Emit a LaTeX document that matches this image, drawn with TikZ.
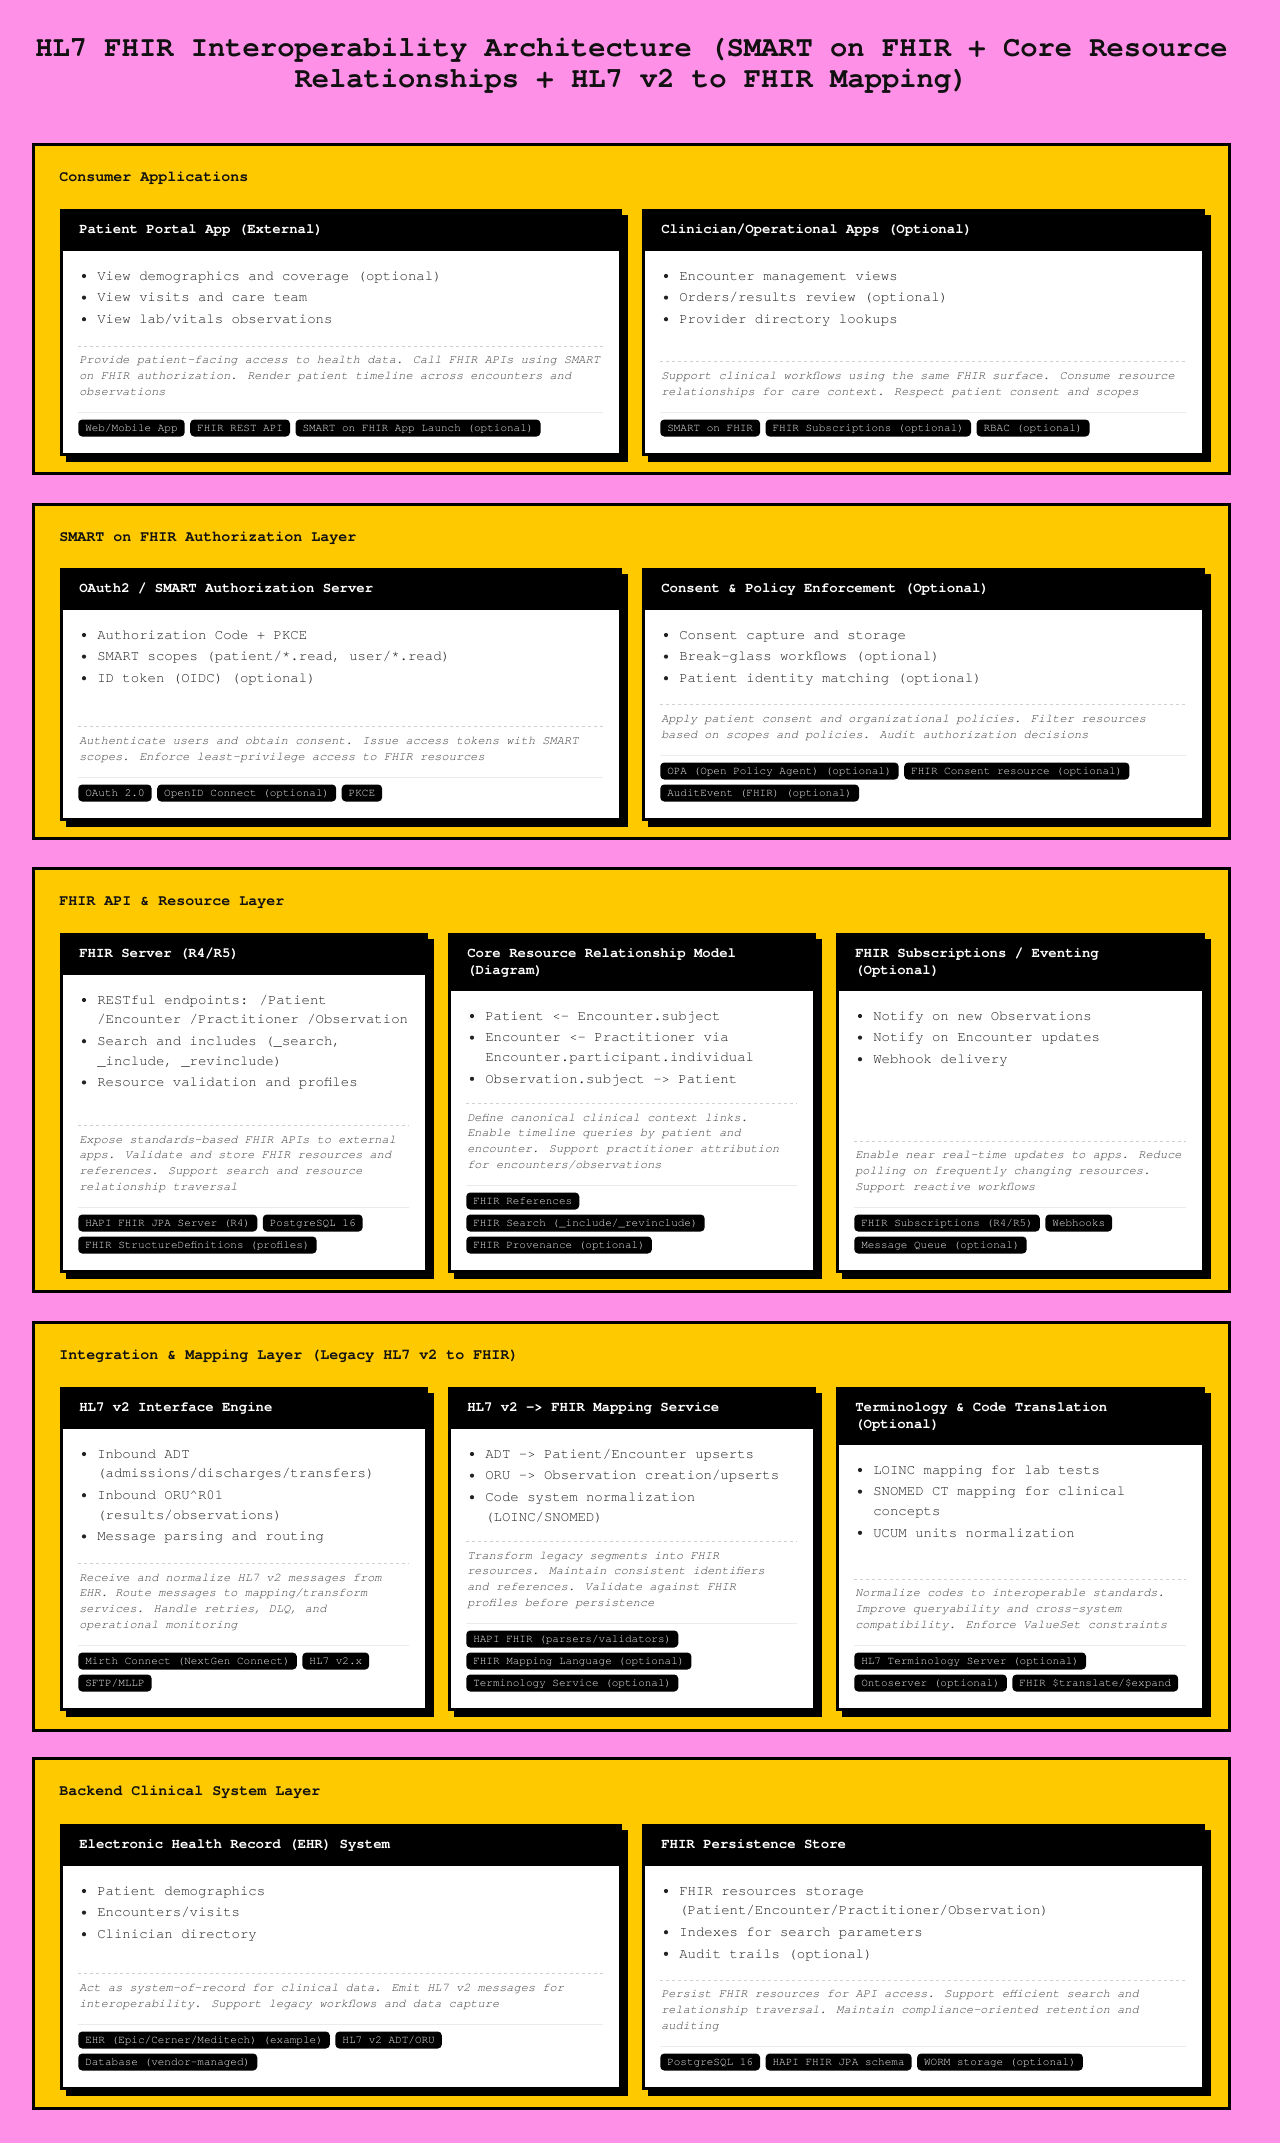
\documentclass[tikz,border=0pt]{standalone}
\usepackage{fontspec}
\setmainfont{TeX Gyre Cursor}
\usetikzlibrary{calc}
\definecolor{pinkbg}{HTML}{FF90E8}
\definecolor{yel}{HTML}{FFC900}
\definecolor{bultc}{HTML}{222222}
\definecolor{descc}{HTML}{444444}
\definecolor{tagtc}{HTML}{E8E8E8}
\definecolor{dashc}{HTML}{D0D0D0}
\definecolor{sepc}{HTML}{EBEBEB}
\definecolor{inkc}{HTML}{111111}
\newcounter{txn}
\tikzset{
 hdrtxt/.style={anchor=base west, inner sep=0pt, font=\bfseries\fontsize{10.5pt}{12pt}\selectfont, text=white},
 bultxt/.style={anchor=base west, inner sep=0pt, font=\fontsize{10.5pt}{12pt}\selectfont, text=bultc},
 desctxt/.style={anchor=base west, inner sep=0pt, font=\itshape\fontsize{9pt}{11pt}\selectfont, text=descc},
 tagbox/.style={anchor=west, fill=black, rounded corners=3pt, text=tagtc, font=\fontsize{8.25pt}{9pt}\selectfont, inner xsep=5.25pt, inner ysep=0pt, minimum height=12.75pt, text height=6.3pt, text depth=1.6pt},
 layerlbl/.style={anchor=base west, inner sep=0pt, font=\bfseries\fontsize{11.25pt}{13pt}\selectfont, text=inkc},
 titletxt/.style={anchor=base, inner sep=0pt, font=\bfseries\fontsize{21.6pt}{24pt}\selectfont, text=inkc},
 dashsep/.style={draw=dashc, line width=0.75pt, dash pattern=on 2.25pt off 2.25pt},
 solidsep/.style={draw=sepc, line width=0.75pt},
}
\newcommand\layerbox[4]{%
 \fill[yel] (32,#2) rectangle (1231,#3);
 \draw[black, line width=2.25pt] (33.5,#2+1.5) rectangle (1229.5,#3-1.5);
 \node[layerlbl] (#1) at (59,#2+34+4.5) {#4};}
\newcommand\cardbox[8]{%
 \def\cx{#2}\def\cy{#3}\def\cr{#4}\def\cb{#5}\def\nr{#7}\def\nd{#8}%
 \fill[black] (#2+6,#3+6) rectangle (#4+6,#5+6);
 \fill[black] (#2,#3) rectangle (#4,#5);
 \fill[white] (#2+3,#3+#6) rectangle (#4-3,#5-3);
 \draw[dashsep] (#2+18,{#5-64.5-22*(#7-1)-15.6*(#8-1)-14}) -- (#4-19,{#5-64.5-22*(#7-1)-15.6*(#8-1)-14});
 \draw[solidsep] (#2+18,{#5-44-22*(#7-1)}) -- (#4-19,{#5-44-22*(#7-1)});
 \coordinate (#1) at (#2,#3);}
\newcommand\hd[2]{\stepcounter{txn}\node[hdrtxt] (h\arabic{txn}) at (\cx+19,\cy+#1+4.2) {#2};}
\newcommand\bu[2]{\stepcounter{txn}\fill[bultc] (\cx+24,\cy+#1) circle[radius=2.1];
 \node[bultxt] (b\arabic{txn}) at (\cx+37,\cy+#1+4.2) {#2};}
\newcommand\bw[2]{\stepcounter{txn}\node[bultxt] (w\arabic{txn}) at (\cx+37,\cy+#1+4.2) {#2};}
\newcommand\ds[2]{\stepcounter{txn}\node[desctxt] (d\arabic{txn}) at (\cx+19,{\cb-64.5-22*(\nr-1)-15.6*(\nd-#1)+3.6}) {#2};}
\newcommand\tgf[3]{\node[tagbox] (#1) at (\cx+18,{\cb-28-22*(\nr-#2)}) {#3};}
\newcommand\tgn[3]{\node[tagbox] (#1) at ($(#2.east)+(5,0)$) {#3};}
\begin{document}
\begin{tikzpicture}[x=0.75pt,y=-0.75pt]
\fill[pinkbg] (0,0) rectangle (1280,2143);
\useasboundingbox (0,0) rectangle (1280,2143);
\node[titletxt] (title1) at (631.5,56.6) {HL7 FHIR Interoperability Architecture (SMART on FHIR + Core Resource};
\node[titletxt] (title2) at (631.5,87.6) {Relationships + HL7 v2 to FHIR Mapping)};

% ---------- Layer 1
\layerbox{L1}{143}{475}{Consumer Applications}
\cardbox{c11}{60}{209}{622}{456}{42}{1}{3}
\hd{20.5}{Patient Portal App (External)}
\bu{67}{View demographics and coverage (optional)}
\bu{88.6}{View visits and care team}
\bu{110.2}{View lab/vitals observations}
\ds{1}{Provide patient-facing access to health data. Call FHIR APIs using SMART}
\ds{2}{on FHIR authorization. Render patient timeline across encounters and}
\ds{3}{observations}
\tgf{t11a}{1}{Web/Mobile App}
\tgn{t11b}{t11a}{FHIR REST API}
\tgn{t11c}{t11b}{SMART on FHIR App Launch (optional)}

\cardbox{c12}{642}{209}{1205}{456}{42}{1}{2}
\hd{20.5}{Clinician/Operational Apps (Optional)}
\bu{67}{Encounter management views}
\bu{88.6}{Orders/results review (optional)}
\bu{110.2}{Provider directory lookups}
\ds{1}{Support clinical workflows using the same FHIR surface. Consume resource}
\ds{2}{relationships for care context. Respect patient consent and scopes}
\tgf{t12a}{1}{SMART on FHIR}
\tgn{t12b}{t12a}{FHIR Subscriptions (optional)}
\tgn{t12c}{t12b}{RBAC (optional)}

% ---------- Layer 2
\layerbox{L2}{503}{840}{SMART on FHIR Authorization Layer}
\cardbox{c21}{60}{568}{622}{821}{42}{1}{2}
\hd{20.5}{OAuth2 / SMART Authorization Server}
\bu{67}{Authorization Code + PKCE}
\bu{88.6}{SMART scopes (patient/*.read, user/*.read)}
\bu{110.2}{ID token (OIDC) (optional)}
\ds{1}{Authenticate users and obtain consent. Issue access tokens with SMART}
\ds{2}{scopes. Enforce least-privilege access to FHIR resources}
\tgf{t21a}{1}{OAuth 2.0}
\tgn{t21b}{t21a}{OpenID Connect (optional)}
\tgn{t21c}{t21b}{PKCE}

\cardbox{c22}{642}{568}{1205}{821}{42}{2}{2}
\hd{20.5}{Consent \& Policy Enforcement (Optional)}
\bu{67}{Consent capture and storage}
\bu{88.6}{Break-glass workflows (optional)}
\bu{110.2}{Patient identity matching (optional)}
\ds{1}{Apply patient consent and organizational policies. Filter resources}
\ds{2}{based on scopes and policies. Audit authorization decisions}
\tgf{t22a}{1}{OPA (Open Policy Agent) (optional)}
\tgn{t22b}{t22a}{FHIR Consent resource (optional)}
\tgf{t22c}{2}{AuditEvent (FHIR) (optional)}

% ---------- Layer 3
\layerbox{L3}{867}{1293}{FHIR API \& Resource Layer}
\cardbox{c31}{60}{933}{428}{1273}{42}{2}{4}
\hd{20.5}{FHIR Server (R4/R5)}
\bu{67}{RESTful endpoints: /Patient}
\bw{86.6}{/Encounter /Practitioner /Observation}
\bu{108.2}{Search and includes (\_search,}
\bw{127.8}{\_include, \_revinclude)}
\bu{149.4}{Resource validation and profiles}
\ds{1}{Expose standards-based FHIR APIs to external}
\ds{2}{apps. Validate and store FHIR resources and}
\ds{3}{references. Support search and resource}
\ds{4}{relationship traversal}
\tgf{t31a}{1}{HAPI FHIR JPA Server (R4)}
\tgn{t31b}{t31a}{PostgreSQL 16}
\tgf{t31c}{2}{FHIR StructureDefinitions (profiles)}

\cardbox{c32}{448}{933}{816}{1273}{58}{3}{4}
\hd{20.5}{Core Resource Relationship Model}
\hd{37.3}{(Diagram)}
\bu{83}{Patient <- Encounter.subject}
\bu{104.6}{Encounter <- Practitioner via}
\bw{124.2}{Encounter.participant.individual}
\bu{145.8}{Observation.subject -> Patient}
\ds{1}{Define canonical clinical context links.}
\ds{2}{Enable timeline queries by patient and}
\ds{3}{encounter. Support practitioner attribution}
\ds{4}{for encounters/observations}
\tgf{t32a}{1}{FHIR References}
\tgf{t32b}{2}{FHIR Search (\_include/\_revinclude)}
\tgf{t32c}{3}{FHIR Provenance (optional)}

\cardbox{c33}{836}{933}{1205}{1273}{58}{2}{3}
\hd{20.5}{FHIR Subscriptions / Eventing}
\hd{37.3}{(Optional)}
\bu{83}{Notify on new Observations}
\bu{104.6}{Notify on Encounter updates}
\bu{126.2}{Webhook delivery}
\ds{1}{Enable near real-time updates to apps. Reduce}
\ds{2}{polling on frequently changing resources.}
\ds{3}{Support reactive workflows}
\tgf{t33a}{1}{FHIR Subscriptions (R4/R5)}
\tgn{t33b}{t33a}{Webhooks}
\tgf{t33c}{2}{Message Queue (optional)}

% ---------- Layer 4
\layerbox{L4}{1321}{1732}{Integration \& Mapping Layer (Legacy HL7 v2 to FHIR)}
\cardbox{c41}{60}{1387}{428}{1711}{42}{2}{4}
\hd{20.5}{HL7 v2 Interface Engine}
\bu{67}{Inbound ADT}
\bw{86.6}{(admissions/discharges/transfers)}
\bu{108.2}{Inbound ORU\textasciicircum R01}
\bw{127.8}{(results/observations)}
\bu{149.4}{Message parsing and routing}
\ds{1}{Receive and normalize HL7 v2 messages from}
\ds{2}{EHR. Route messages to mapping/transform}
\ds{3}{services. Handle retries, DLQ, and}
\ds{4}{operational monitoring}
\tgf{t41a}{1}{Mirth Connect (NextGen Connect)}
\tgn{t41b}{t41a}{HL7 v2.x}
\tgf{t41c}{2}{SFTP/MLLP}

\cardbox{c42}{448}{1387}{816}{1711}{42}{3}{4}
\hd{20.5}{HL7 v2 -> FHIR Mapping Service}
\bu{67}{ADT -> Patient/Encounter upserts}
\bu{88.6}{ORU -> Observation creation/upserts}
\bu{110.2}{Code system normalization}
\bw{129.8}{(LOINC/SNOMED)}
\ds{1}{Transform legacy segments into FHIR}
\ds{2}{resources. Maintain consistent identifiers}
\ds{3}{and references. Validate against FHIR}
\ds{4}{profiles before persistence}
\tgf{t42a}{1}{HAPI FHIR (parsers/validators)}
\tgf{t42b}{2}{FHIR Mapping Language (optional)}
\tgf{t42c}{3}{Terminology Service (optional)}

\cardbox{c43}{836}{1387}{1205}{1711}{58}{2}{3}
\hd{20.5}{Terminology \& Code Translation}
\hd{37.3}{(Optional)}
\bu{83}{LOINC mapping for lab tests}
\bu{104.6}{SNOMED CT mapping for clinical}
\bw{124.2}{concepts}
\bu{145.8}{UCUM units normalization}
\ds{1}{Normalize codes to interoperable standards.}
\ds{2}{Improve queryability and cross-system}
\ds{3}{compatibility. Enforce ValueSet constraints}
\tgf{t43a}{1}{HL7 Terminology Server (optional)}
\tgf{t43b}{2}{Ontoserver (optional)}
\tgn{t43c}{t43b}{FHIR \$translate/\$expand}

% ---------- Layer 5
\layerbox{L5}{1757}{2110}{Backend Clinical System Layer}
\cardbox{c51}{60}{1824}{622}{2090}{42}{2}{2}
\hd{20.5}{Electronic Health Record (EHR) System}
\bu{67}{Patient demographics}
\bu{88.6}{Encounters/visits}
\bu{110.2}{Clinician directory}
\ds{1}{Act as system-of-record for clinical data. Emit HL7 v2 messages for}
\ds{2}{interoperability. Support legacy workflows and data capture}
\tgf{t51a}{1}{EHR (Epic/Cerner/Meditech) (example)}
\tgn{t51b}{t51a}{HL7 v2 ADT/ORU}
\tgf{t51c}{2}{Database (vendor-managed)}

\cardbox{c52}{642}{1824}{1205}{2090}{42}{1}{3}
\hd{20.5}{FHIR Persistence Store}
\bu{67}{FHIR resources storage}
\bw{86.6}{(Patient/Encounter/Practitioner/Observation)}
\bu{108.2}{Indexes for search parameters}
\bu{129.8}{Audit trails (optional)}
\ds{1}{Persist FHIR resources for API access. Support efficient search and}
\ds{2}{relationship traversal. Maintain compliance-oriented retention and}
\ds{3}{auditing}
\tgf{t52a}{1}{PostgreSQL 16}
\tgn{t52b}{t52a}{HAPI FHIR JPA schema}
\tgn{t52c}{t52b}{WORM storage (optional)}
\end{tikzpicture}
\end{document}
